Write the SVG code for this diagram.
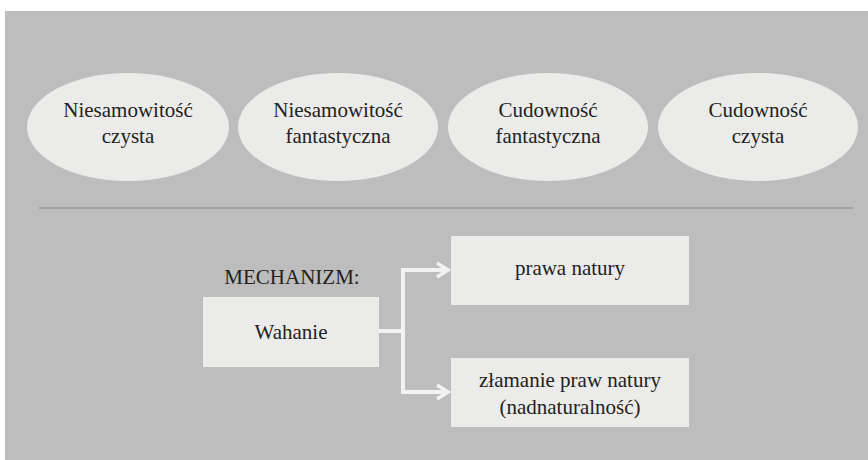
<svg xmlns="http://www.w3.org/2000/svg" width="868" height="460" viewBox="0 0 868 460">
<style>
.t{font-family:"Liberation Serif","DejaVu Serif",serif;font-size:21px;fill:#222;text-anchor:middle}
.ell{fill:#ebebe9}
.box{fill:#ebebe9}
.con{fill:none;stroke:#f2f2f0;stroke-width:4}
</style>
<defs>
<marker id="arr" markerWidth="16" markerHeight="18" refX="13" refY="9" orient="auto" markerUnits="userSpaceOnUse" viewBox="0 0 16 18">
<path d="M2,2 L13,9 L2,16" fill="none" stroke="#f2f2f0" stroke-width="3.5"/>
</marker>
</defs>
<rect width="868" height="460" fill="#ffffff"/>
<rect x="5" y="11" width="863" height="449" fill="#bdbdbd"/>
<line x1="39" y1="208" x2="853" y2="208" stroke="#9a9a9a" stroke-width="1.5"/>
<g id="n1"><ellipse class="ell" cx="128" cy="127" rx="101" ry="54"/><text class="t" x="128" y="117">Niesamowitość</text><text class="t" x="128" y="143">czysta</text></g>
<g id="n2"><ellipse class="ell" cx="338" cy="127" rx="100" ry="54"/><text class="t" x="338" y="117">Niesamowitość</text><text class="t" x="338" y="143">fantastyczna</text></g>
<g id="n3"><ellipse class="ell" cx="548" cy="127" rx="100" ry="54"/><text class="t" x="548" y="117">Cudowność</text><text class="t" x="548" y="143">fantastyczna</text></g>
<g id="n4"><ellipse class="ell" cx="758" cy="127" rx="100" ry="54"/><text class="t" x="758" y="117">Cudowność</text><text class="t" x="758" y="143">czysta</text></g>
<g id="label"><text class="t" x="292" y="284">MECHANIZM:</text></g>
<g id="wahanie"><rect class="box" x="203" y="297" width="176" height="70"/><text class="t" x="291" y="339">Wahanie</text></g>
<g id="prawa"><rect class="box" x="451" y="236" width="238" height="69"/><text class="t" x="570" y="275">prawa natury</text></g>
<g id="zlamanie"><rect class="box" x="451" y="358" width="238" height="69"/><text class="t" x="570" y="387">złamanie praw natury</text><text class="t" x="570" y="414">(nadnaturalność)</text></g>
<g id="connectors">
<path class="con" d="M379,331 H403"/>
<path class="con" d="M403,270 V392"/>
<path class="con" d="M401,270 H448" marker-end="url(#arr)"/>
<path class="con" d="M401,392 H448" marker-end="url(#arr)"/>
</g>
</svg>
